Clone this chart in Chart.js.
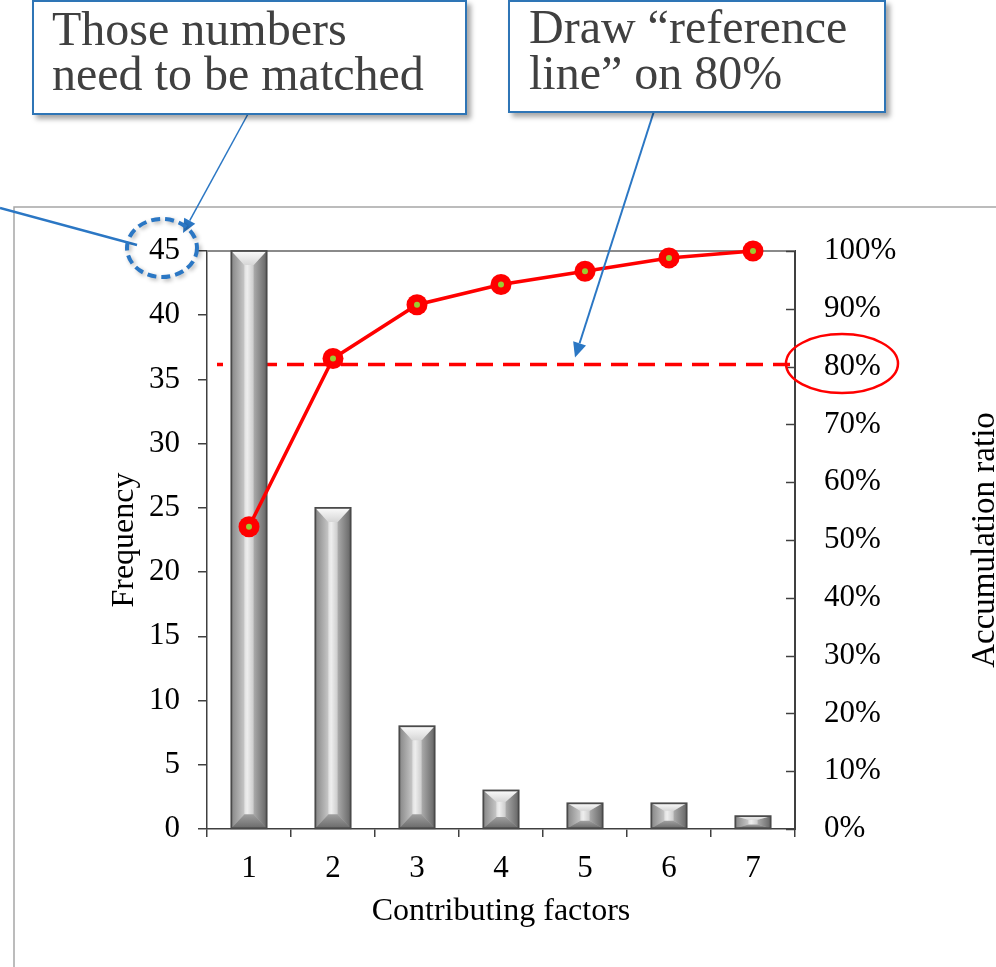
<!DOCTYPE html>
<html>
<head>
<meta charset="utf-8">
<title>Pareto chart</title>
<script src="https://cdn.jsdelivr.net/npm/chart.js@4.4.0/dist/chart.umd.min.js"></script>
<style>
  html, body { margin: 0; padding: 0; background: #ffffff; }
  #wrap { position: relative; width: 996px; height: 967px; overflow: hidden; }
  #pareto { position: absolute; left: 0; top: 0; }
  .note {
    position: absolute; box-sizing: border-box; background: #ffffff;
    border: 2px solid #2E75B6; box-shadow: 4px 4px 5px rgba(0,0,0,0.35);
    font-family: 'Liberation Serif', 'Times New Roman', serif;
    font-size: 48px; color: #404040; white-space: nowrap;
  }
</style>
</head>
<body>
<div id="wrap">
  <canvas id="pareto" width="996" height="967"></canvas>
  <div class="note" style="left:32px; top:0px; width:435px; height:115px; padding:4px 0 0 18px; line-height:45px;">Those numbers<br>need to be matched</div>
  <div class="note" style="left:508px; top:0px; width:378px; height:113px; padding:2px 0 0 19px; line-height:46px;">Draw “reference<br>line” on 80%</div>
</div>
<script>
// Contributing factors and how often each one occurred
const factors = ['1', '2', '3', '4', '5', '6', '7'];
const frequency = [45, 25, 8, 3, 2, 2, 1];
// Running share of all occurrences, in percent
const cumulativePct = [52.3, 81.4, 90.7, 94.2, 96.5, 98.8, 100];
// Axis ticks
const frequencyTicks = [0, 5, 10, 15, 20, 25, 30, 35, 40, 45];
const ratioTicks = [0, 10, 20, 30, 40, 50, 60, 70, 80, 90, 100];
const referencePct = 80;

const SERIF = "'Liberation Serif', 'Times New Roman', serif";
const AXIS_DARK = '#404040';
const BLUE = '#2B77C4';

function polygon(ctx, pts, fill) {
  ctx.beginPath();
  ctx.moveTo(pts[0][0], pts[0][1]);
  for (let i = 1; i < pts.length; i++) ctx.lineTo(pts[i][0], pts[i][1]);
  ctx.closePath();
  ctx.fillStyle = fill;
  ctx.fill();
}

// Bevelled grey column drawn over a bar element's own box
function bevelBar(ctx, el) {
  const p = el.getProps(['x', 'y', 'base', 'width'], true);
  const L = p.x - p.width / 2, R = p.x + p.width / 2;
  const T = Math.min(p.y, p.base), B = Math.max(p.y, p.base);
  const h = B - T;
  const bx = Math.min(p.width * 0.37, 13);
  const by = Math.min(14, h * 0.3);

  let g = ctx.createLinearGradient(L, 0, R, 0);
  g.addColorStop(0, '#9a9a9a'); g.addColorStop(0.45, '#eeeeee'); g.addColorStop(1, '#858585');
  ctx.fillStyle = g; ctx.fillRect(L, T, p.width, h);

  g = ctx.createLinearGradient(L, 0, L + bx, 0);
  g.addColorStop(0, '#878787'); g.addColorStop(1, '#c6c6c6');
  polygon(ctx, [[L, T], [L + bx, T + by], [L + bx, B - by], [L, B]], g);

  g = ctx.createLinearGradient(R - bx, 0, R, 0);
  g.addColorStop(0, '#ababab'); g.addColorStop(1, '#666666');
  polygon(ctx, [[R, T], [R - bx, T + by], [R - bx, B - by], [R, B]], g);

  g = ctx.createLinearGradient(0, T, 0, T + by);
  g.addColorStop(0, '#fbfbfb'); g.addColorStop(1, '#d6d6d6');
  polygon(ctx, [[L, T], [R, T], [R - bx, T + by], [L + bx, T + by]], g);

  g = ctx.createLinearGradient(0, B - by, 0, B);
  g.addColorStop(0, '#a0a0a0'); g.addColorStop(1, '#6a6a6a');
  polygon(ctx, [[L, B], [R, B], [R - bx, B - by], [L + bx, B - by]], g);

  ctx.strokeStyle = '#4a4a4a';
  ctx.lineWidth = 1.8;
  ctx.strokeRect(L, T, p.width, h);
}

function arrow(ctx, x1, y1, x2, y2, width, head) {
  const a = Math.atan2(y2 - y1, x2 - x1);
  const bx = x2 - head * Math.cos(a), by = y2 - head * Math.sin(a);
  ctx.beginPath(); ctx.moveTo(x1, y1); ctx.lineTo(bx, by);
  ctx.lineWidth = width; ctx.stroke();
  const w = head * 0.45;
  ctx.beginPath();
  ctx.moveTo(x2, y2);
  ctx.lineTo(bx + w * Math.sin(a), by - w * Math.cos(a));
  ctx.lineTo(bx - w * Math.sin(a), by + w * Math.cos(a));
  ctx.closePath(); ctx.fill();
}

const decor = {
  id: 'decor',
  beforeDraw(chart) {
    const ctx = chart.ctx;
    ctx.save();
    ctx.fillStyle = '#ffffff';
    ctx.fillRect(0, 0, chart.width, chart.height);
    // outer chart frame
    ctx.strokeStyle = '#A6A6A6';
    ctx.lineWidth = 1.5;
    ctx.strokeRect(14, 207, 1200, 1000);
    ctx.restore();
  },
  beforeDatasetsDraw(chart) {
    const ctx = chart.ctx, a = chart.chartArea, r = chart.scales.y1;
    ctx.save();
    // plot frame top edge
    ctx.strokeStyle = '#8a8a8a';
    ctx.lineWidth = 2;
    ctx.beginPath(); ctx.moveTo(a.left, a.top); ctx.lineTo(a.right, a.top); ctx.stroke();
    // 80% reference line
    const y = r.getPixelForValue(referencePct) - 2;
    ctx.strokeStyle = '#FF0000';
    ctx.lineWidth = 3.5;
    ctx.setLineDash([17, 10]);
    ctx.lineDashOffset = 11;
    ctx.beginPath(); ctx.moveTo(a.left + 10, y); ctx.lineTo(a.right - 5, y); ctx.stroke();
    ctx.restore();
  },
  afterDatasetDraw(chart, args) {
    if (args.meta.type !== 'bar') return;
    const ctx = chart.ctx;
    ctx.save();
    args.meta.data.forEach(el => bevelBar(ctx, el));
    ctx.restore();
  },
  afterDraw(chart) {
    const ctx = chart.ctx, a = chart.chartArea;
    const yl = chart.scales.y, yr = chart.scales.y1;
    ctx.save();
    // inward tick marks on the ratio axis
    ctx.strokeStyle = AXIS_DARK;
    ctx.lineWidth = 1.5;
    ratioTicks.forEach(v => {
      const y = Math.round(yr.getPixelForValue(v)) + 0.5;
      ctx.beginPath(); ctx.moveTo(yr.left - 9, y); ctx.lineTo(yr.left, y); ctx.stroke();
    });
    // ratio axis title, reading bottom to top
    ctx.fillStyle = '#000000';
    ctx.font = '33px ' + SERIF;
    ctx.textAlign = 'center';
    ctx.textBaseline = 'middle';
    ctx.translate(yr.left + 190, (a.top + a.bottom) / 2);
    ctx.rotate(-Math.PI / 2);
    ctx.fillText('Accumulation ratio', 0, 0);
    ctx.restore();

    // call-out connectors
    ctx.save();
    ctx.strokeStyle = BLUE; ctx.fillStyle = BLUE; ctx.lineCap = 'butt';
    arrow(ctx, 248, 114, 183, 233, 1.5, 14);
    arrow(ctx, 655, 108, 575, yr.getPixelForValue(referencePct) - 9, 2, 15);
    ctx.lineWidth = 2.5;
    ctx.beginPath(); ctx.moveTo(0, 208); ctx.lineTo(137, 245); ctx.stroke();

    // dashed ring round the top frequency label
    const cx = yl.right - 45, cy = yl.getPixelForValue(45) - 3;
    ctx.shadowColor = 'rgba(0,0,0,0.3)'; ctx.shadowBlur = 4; ctx.shadowOffsetX = 2; ctx.shadowOffsetY = 2;
    ctx.lineWidth = 4;
    ctx.setLineDash([9, 5]);
    ctx.beginPath(); ctx.ellipse(cx, cy, 35, 29, 0, 0, Math.PI * 2); ctx.stroke();
    ctx.restore();

    // ring round the 80% label
    ctx.save();
    ctx.strokeStyle = '#FF0000';
    ctx.lineWidth = 2.5;
    ctx.beginPath();
    ctx.ellipse(yr.left + 47, yr.getPixelForValue(referencePct) - 3, 56, 29.5, 0, 0, Math.PI * 2);
    ctx.stroke();
    ctx.restore();
  }
};

const tickFont = { family: SERIF, size: 31 };
const titleFont = { family: SERIF, size: 32 };

new Chart(document.getElementById('pareto'), {
  data: {
    labels: factors,
    datasets: [
      {
        type: 'bar', label: 'Frequency', data: frequency, yAxisID: 'y', order: 2,
        backgroundColor: '#c0c0c0', borderColor: '#4d4d4d', borderWidth: 1.5,
        barPercentage: 0.42, categoryPercentage: 1.0
      },
      {
        type: 'line', label: 'Accumulation ratio', data: cumulativePct, yAxisID: 'y1', order: 1,
        borderColor: '#FF0000', borderWidth: 3.5, tension: 0, clip: false,
        pointRadius: 10.5, pointBackgroundColor: '#FF0000', pointBorderWidth: 0
      },
      {
        type: 'line', label: 'point centre', data: cumulativePct, yAxisID: 'y1', order: 0,
        showLine: false, clip: false,
        pointRadius: 3, pointBackgroundColor: '#9ACD32', pointBorderWidth: 0
      }
    ]
  },
  options: {
    responsive: false,
    animation: false,
    layout: { padding: { left: 102, right: 0, top: 251, bottom: 36 } },
    plugins: { legend: { display: false }, tooltip: { enabled: false } },
    scales: {
      x: {
        type: 'category', offset: true,
        grid: { display: true, offset: true, drawOnChartArea: false, drawTicks: true, tickLength: 8, color: AXIS_DARK, lineWidth: 1.5 },
        border: { display: true, color: AXIS_DARK, width: 1.5 },
        ticks: { padding: 13, color: '#000000', font: tickFont, maxRotation: 0 },
        title: { display: true, text: 'Contributing factors', color: '#000000', font: titleFont, padding: { top: 0, bottom: 0 } },
        afterFit(s) { s.height = 102; }
      },
      y: {
        position: 'left', min: 0, max: 45,
        afterBuildTicks(s) { s.ticks = frequencyTicks.map(v => ({ value: v })); },
        grid: { display: true, drawOnChartArea: false, drawTicks: true, tickLength: 9, color: AXIS_DARK, lineWidth: 1.5 },
        border: { display: true, color: AXIS_DARK, width: 1.5 },
        ticks: { padding: 18, color: '#000000', font: tickFont },
        title: { display: true, text: 'Frequency', color: '#000000', font: titleFont, padding: { top: 3, bottom: 0 } },
        afterFit(s) { s.width = 105; }
      },
      y1: {
        position: 'right', min: 0, max: 100,
        afterBuildTicks(s) { s.ticks = ratioTicks.map(v => ({ value: v })); },
        grid: { display: false, drawOnChartArea: false, drawTicks: false },
        border: { display: true, color: AXIS_DARK, width: 2 },
        ticks: { padding: 29, color: '#000000', font: tickFont, callback: v => v + '%' },
        afterFit(s) { s.width = 201; }
      }
    }
  },
  plugins: [decor]
});
</script>
</body>
</html>
